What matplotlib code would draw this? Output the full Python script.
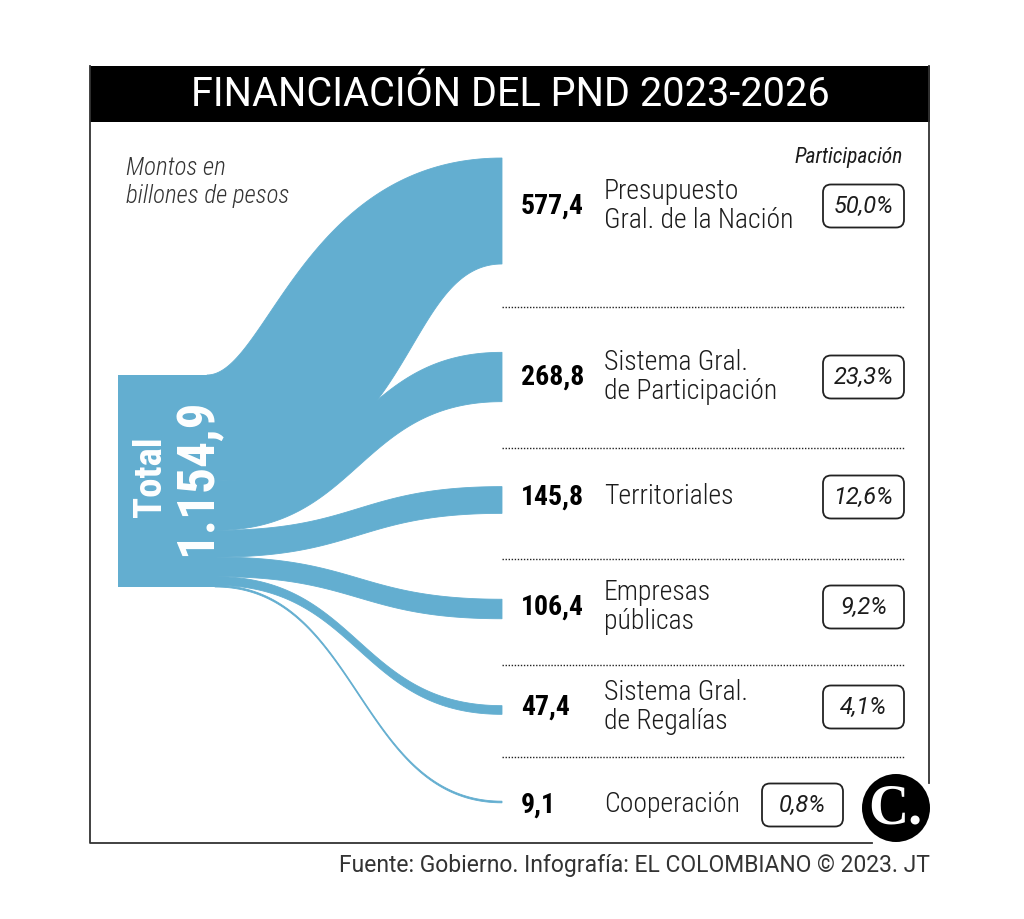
import matplotlib
matplotlib.use("Agg")
import matplotlib.pyplot as plt
import numpy as np
from matplotlib.patches import Rectangle, FancyBboxPatch, Polygon, Circle

# data
categories = ["Presupuesto\nGral. de la Nación", "Sistema Gral.\nde Participación",
              "Territoriales", "Empresas\npúblicas", "Sistema Gral.\nde Regalías",
              "Cooperación"]
values = [577.4, 268.8, 145.8, 106.4, 47.4, 9.1]
shares = ["50,0%", "23,3%", "12,6%", "9,2%", "4,1%", "0,8%"]
total = 1154.9

BLUE = "#63aed0"
INK = "#1c1c1c"
COND = "Roboto Condensed"

# layout (pixels)
W, H = 1024, 919
k = 212 / total                 # px per billion
src_x0, src_x1, src_top = 118, 215, 375
tgt_x = 502
tgt_mid = [211, 377, 500, 609, 710, 802]
label_y = [206, 377, 497, 607, 707, 805]
sep_y = [307, 448, 559, 665, 757]


def fmt(v):
    return f"{v:,.1f}".replace(",", " ").replace(".", ",").replace(" ", ".")


def bezier(xa, ya, xb, yb, ca=0.5, cb=0.5, n=100):
    t = np.linspace(0, 1, n)
    dx = xb - xa
    px = [xa, xa + ca * dx, xb - cb * dx, xb]
    py = [ya, ya, yb, yb]
    w = [(1 - t) ** 3, 3 * t * (1 - t) ** 2, 3 * t ** 2 * (1 - t), t ** 3]
    x = sum(wi * p for wi, p in zip(w, px))
    y = sum(wi * p for wi, p in zip(w, py))
    return x, y


fig = plt.figure(figsize=(W / 100, H / 100), dpi=100)
ax = fig.add_axes([0, 0, 1, 1])
ax.set_xlim(0, W)
ax.set_ylim(H, 0)
ax.axis("off")

# frame + title bar
ax.add_patch(Rectangle((90, 66), 840, 56, facecolor="black", edgecolor="none"))
ax.plot([90, 90, 872], [66, 843, 843], color="#333333", lw=1.3)
ax.plot([929, 929], [66, 783], color="#333333", lw=1.3)
ax.text(510, 95, "FINANCIACIÓN DEL PND 2023-2026", color="white", fontsize=28.5,
        family="Roboto", ha="center", va="center")

ax.text(126, 203, "Montos en\nbillones de pesos", color="#333333", fontsize=18,
        family=COND, style="italic", fontweight="light", ha="left", va="baseline",
        linespacing=1.2)
ax.text(903, 157, "Participación", color=INK, fontsize=15.5, family=COND,
        style="italic", ha="right", va="center")

# source node
ax.add_patch(Rectangle((src_x0, src_top), src_x1 - src_x0 + 2, total * k,
                       facecolor=BLUE, edgecolor="none"))

# flows
y_cur = src_top
for i, v in enumerate(values):
    th = v * k
    s_top, s_bot = y_cur, y_cur + th
    t_top, t_bot = tgt_mid[i] - th / 2, tgt_mid[i] + th / 2
    if i == 0:
        xt, yt = bezier(src_x1 - 8, s_top, tgt_x, t_top, 0.2, 0.67)
        xb, yb = bezier(src_x1, s_bot, tgt_x, t_bot, 0.7, 0.35)
    else:
        xt, yt = bezier(src_x1, s_top, tgt_x, t_top)
        xb, yb = bezier(src_x1, s_bot, tgt_x, t_bot)
    pts = np.column_stack([np.r_[xt, xb[::-1]], np.r_[yt, yb[::-1]]])
    ax.add_patch(Polygon(pts, closed=True, facecolor=BLUE, edgecolor=BLUE, lw=0.6))
    y_cur = s_bot

ax.text(151, src_top + total * k / 2 - 4, "Total", rotation=90, color="white",
        fontsize=28, family=COND, fontweight="bold", ha="center", va="center")
ax.text(197, src_top + total * k / 2 - 4, fmt(total), rotation=90, color="white",
        fontsize=37, family=COND, fontweight="bold", ha="center", va="center")

# separators
for y in sep_y:
    ax.plot([502, 905], [y, y], color="#222222", lw=1.0, ls=(0, (1, 1.2)))

# labels and share boxes
for i, (cat, v, sh) in enumerate(zip(categories, values, shares)):
    y = label_y[i]
    ax.text(521, y, fmt(v), color="black", fontsize=20, family=COND,
            fontweight="bold", ha="left", va="center")
    ax.text(604, y, cat, color=INK, fontsize=20, family=COND, fontweight="light",
            ha="left", va="center", linespacing=1.12)
    bx0 = 762 if i == len(values) - 1 else 823
    ax.add_patch(FancyBboxPatch((bx0, y - 21.5), 81, 43,
                                boxstyle="round,pad=0,rounding_size=8",
                                facecolor="white", edgecolor="#222222", lw=1.3))
    ax.text(bx0 + 40.5, y, sh, color=INK, fontsize=17, family="Roboto",
            style="italic", fontweight="normal", ha="center", va="center")

# logo
ax.add_patch(Circle((896, 808), 34, facecolor="black", edgecolor="none"))
ax.text(895, 810, "C.", color="white", fontsize=40, family="Liberation Serif",
        fontweight="bold", ha="center", va="center")

ax.text(930, 872, "Fuente: Gobierno. Infografía: EL COLOMBIANO © 2023. JT",
        color="#333333", fontsize=16.5, family="Roboto",
        ha="right", va="baseline")

fig.savefig("out.png", dpi=100)
